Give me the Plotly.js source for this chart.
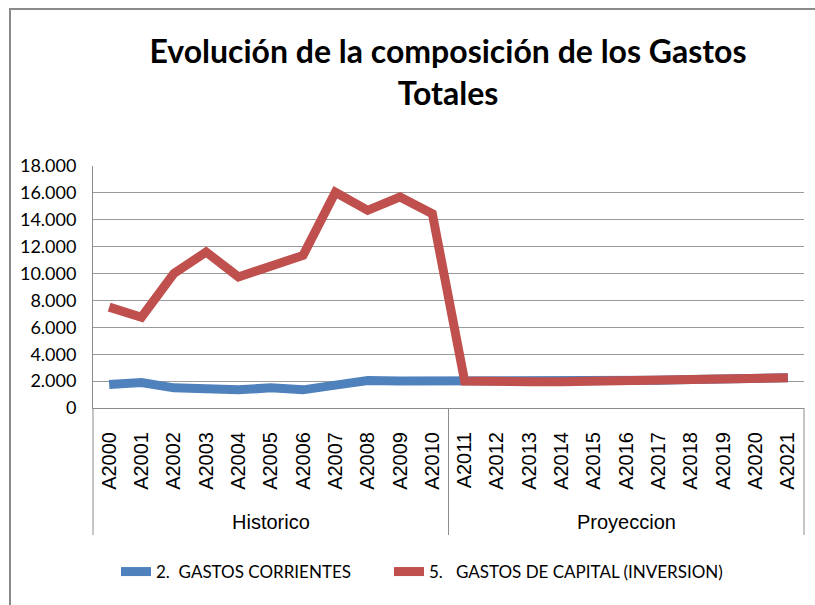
<!DOCTYPE html>
<html>
<head>
<meta charset="utf-8">
<script src="https://cdn.plot.ly/plotly-3.0.1.min.js"></script>
<style>html,body{margin:0;padding:0;background:#fff;}#chart{width:815px;height:605px;}</style>
</head>
<body>
<div id="chart"></div>
<script>
const categories = ["A2000","A2001","A2002","A2003","A2004","A2005","A2006","A2007","A2008","A2009","A2010",
                    "A2011","A2012","A2013","A2014","A2015","A2016","A2017","A2018","A2019","A2020","A2021"];
const periods = ["Historico","Historico","Historico","Historico","Historico","Historico","Historico","Historico","Historico","Historico","Historico",
                 "Proyeccion","Proyeccion","Proyeccion","Proyeccion","Proyeccion","Proyeccion","Proyeccion","Proyeccion","Proyeccion","Proyeccion","Proyeccion"];
const gastosCorrientes = [1750,1900,1500,1350,1350,1500,1350,1700,2050,2000,2000,
                          2000,1900,1950,1950,1980,2030,2060,2120,2150,2180,2250];
const gastosCapital = [7500,6750,10000,11600,9750,10500,11350,16050,14700,15700,14450,
                       2000,1900,1950,1950,1980,2030,2060,2120,2150,2180,2250];
const seriesNames = ["2.  GASTOS CORRIENTES","5.   GASTOS DE CAPITAL (INVERSION)"];

const lato = "Lato, sans-serif";
const libSans = "Liberation Sans, Arial, sans-serif";
const traces = [
  {x:categories, y:gastosCorrientes, type:'scatter', mode:'lines', name:seriesNames[0],
   line:{color:'#4F81BD', width:9}, legend:'legend'},
  {x:categories, y:gastosCapital, type:'scatter', mode:'lines', name:seriesNames[1],
   line:{color:'#C0504D', width:9}, legend:'legend2'}
];

// group spans derived from the period array
const groups = [];
for (let i = 0; i < periods.length; i++) {
  if (i === 0 || periods[i] !== periods[i-1]) groups.push({name:periods[i], start:i, end:i});
  else groups[groups.length-1].end = i;
}
const divBottom = -(535-408)/242;
const boundaries = [0].concat(groups.map(g => (g.end + 1) / periods.length));
const shapes = boundaries.map(b => ({type:'line', xref:'paper', yref:'paper', x0:b, x1:b, y0:0, y1:divBottom,
                                     line:{color:'#8c8c8c', width:1}}));
shapes.push({type:'rect', xref:'paper', yref:'paper',
           x0:(10-93)/711, x1:(818-93)/711, y0:(408-9)/242, y1:-(610-408)/242,
           line:{color:'#8a8a8a', width:2}, fillcolor:'rgba(0,0,0,0)', layer:'below'});
const annotations = groups.map(g => ({text:g.name, xref:'x', yref:'paper', x:(g.start + g.end) / 2,
                                      y:-(522-408)/242, yanchor:'middle', xanchor:'center', showarrow:false,
                                      font:{family:libSans, size:20, color:'#000'}}));

const layout = {
  width:815, height:605,
  margin:{l:93, r:11, t:166, b:197},
  separators:',.',
  paper_bgcolor:'#fff', plot_bgcolor:'#fff',
  title:{text:'Evolución de la composición de los Gastos<br>Totales',
         font:{family:lato, size:32, color:'#000', weight:'bold'},
         x:448/815, xanchor:'center', xref:'container',
         y:1-63/605, yanchor:'middle', yref:'container'},
  xaxis:{type:'category', range:[-0.5, categories.length-0.5], showline:true, linecolor:'#8c8c8c', linewidth:1,
         showgrid:false, ticks:'outside', ticklen:15, tickcolor:'rgba(0,0,0,0)', tickangle:-90,
         tickfont:{family:libSans, size:20, color:'#000'}},
  yaxis:{range:[0,18000], dtick:2000, tickformat:',d', showgrid:true, gridcolor:'#9a9a9a', gridwidth:1,
         showline:true, linecolor:'#8c8c8c', zeroline:false, ticks:'', ticklabelstandoff:12,
         tickfont:{family:lato, size:18, color:'#000'}},
  showlegend:true,
  legend:{orientation:'h', x:(116-93)/711, xanchor:'left', y:-(572-408)/242, yanchor:'middle',
          font:{family:lato, size:17, color:'#000'}},
  legend2:{orientation:'h', x:(389-93)/711, xanchor:'left', y:-(572-408)/242, yanchor:'middle',
          font:{family:lato, size:17, color:'#000'}},
  annotations:annotations,
  shapes:shapes
};
Plotly.newPlot('chart', traces, layout, {displayModeBar:false, staticPlot:true});
</script>
</body>
</html>
